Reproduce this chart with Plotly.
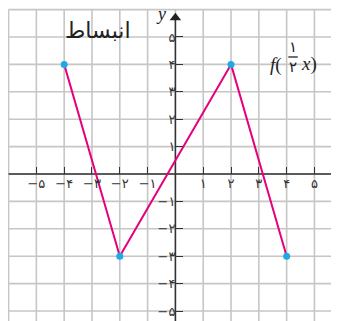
import plotly.graph_objects as go

# points of f(x/2)
x_pts = [-4, -2, 2, 4]
y_pts = [4, -3, 4, -3]

# axis ticks (Persian digits)
tick_vals = [-5, -4, -3, -2, -1, 1, 2, 3, 4, 5]
tick_labels = ["−۵", "−۴", "−۳", "−۲", "−۱", "۱", "۲", "۳", "۴", "۵"]

# grid squares
grid_x = list(range(-6, 7))
grid_y = list(range(-6, 7))

title_text = "انبساط"

# the page body adds an 8px offset, so the ranges are shifted to compensate
x_rng = [-6.02, 6.17]
y_rng = [-5.657, 6.058]

grid_col = "#c6c6c6"
axis_col = "#333333"
fa_font = "DejaVu Sans"
serif = "Liberation Serif"

shapes = []
for gx in grid_x:
    shapes.append(dict(type="line", x0=gx, x1=gx, y0=y_rng[0] - 0.1, y1=6,
                       line=dict(color=grid_col, width=1.6), layer="below"))
for gy in grid_y:
    shapes.append(dict(type="line", x0=-6, x1=x_rng[1] + 0.1, y0=gy, y1=gy,
                       line=dict(color=grid_col, width=1.6), layer="below"))
# axis lines
shapes.append(dict(type="line", x0=-6, x1=5.75, y0=0, y1=0,
                   line=dict(color=axis_col, width=1.5), layer="below"))
shapes.append(dict(type="line", x0=0, x1=0, y0=y_rng[0] - 0.1, y1=5.7,
                   line=dict(color=axis_col, width=1.5), layer="below"))

fig = go.Figure()

fig.add_trace(go.Scatter(
    x=x_pts, y=y_pts, mode="lines",
    line=dict(color="#e6007e", width=2),
    hoverinfo="skip", showlegend=False,
))
fig.add_trace(go.Scatter(
    x=x_pts, y=y_pts, mode="markers",
    marker=dict(color="#1fa9e6", size=7),
    showlegend=False,
))
# arrow heads
fig.add_trace(go.Scatter(
    x=[5.8, 0], y=[0, 5.7], mode="markers",
    marker=dict(symbol=["triangle-right", "triangle-up"], size=10, color="#222222"),
    hoverinfo="skip", showlegend=False,
))

annotations = [
    dict(x=-2.77, y=5.23, text=title_text, showarrow=False,
         font=dict(family=fa_font, size=22, color="#222")),
    dict(x=-0.52, y=5.84, text="<i>y</i>", showarrow=False,
         font=dict(family=serif, size=18, color="#222")),
    dict(x=5.88, y=-0.47, text="<i>x</i>", showarrow=False,
         font=dict(family=serif, size=18, color="#222")),
    # f(1/2 x)
    dict(x=3.62, y=3.98, text="<i>f</i>(", showarrow=False,
         font=dict(family=serif, size=19, color="#222")),
    dict(x=4.23, y=4.64, text="۱", showarrow=False,
         font=dict(family=fa_font, size=15, color="#222")),
    dict(x=4.23, y=3.9, text="۲", showarrow=False,
         font=dict(family=fa_font, size=15, color="#222")),
    dict(x=4.8, y=4.0, text="<i>x</i>)", showarrow=False,
         font=dict(family=serif, size=19, color="#222")),
]
shapes.append(dict(type="line", x0=4.06, x1=4.4, y0=4.27, y1=4.27,
                   line=dict(color="#222", width=1.3)))

fig.update_layout(
    width=339, height=321,
    margin=dict(l=0, r=0, t=0, b=0),
    plot_bgcolor="white", paper_bgcolor="white",
    shapes=shapes, annotations=annotations,
    showlegend=False,
    xaxis=dict(range=x_rng, anchor="free", position=-y_rng[0] / (y_rng[1] - y_rng[0]),
               tickvals=tick_vals, ticktext=tick_labels,
               ticks="inside", ticklen=7, tickwidth=1.3, tickcolor=axis_col,
               tickfont=dict(family=fa_font, size=13, color="#333"),
               showgrid=False, zeroline=False, showline=False,
               automargin=False, fixedrange=True),
    yaxis=dict(range=y_rng, anchor="free", position=-x_rng[0] / (x_rng[1] - x_rng[0]),
               tickvals=tick_vals, ticktext=tick_labels,
               ticks="inside", ticklen=7, tickwidth=1.3, tickcolor=axis_col,
               tickfont=dict(family=fa_font, size=13, color="#333"),
               showgrid=False, zeroline=False, showline=False,
               automargin=False, fixedrange=True),
)

fig.write_html("out.html")
